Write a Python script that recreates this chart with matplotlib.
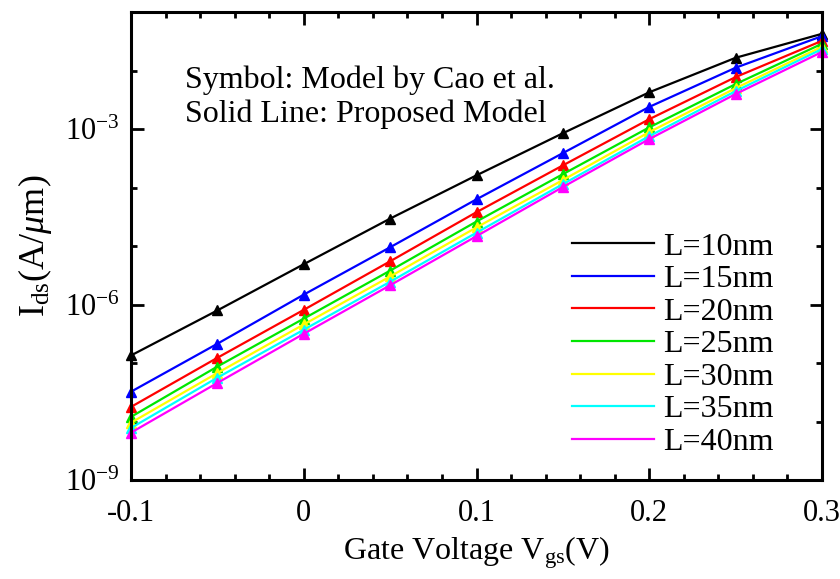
import numpy as np
import matplotlib
matplotlib.use("Agg")
import matplotlib.pyplot as plt
from matplotlib.ticker import FixedLocator, MultipleLocator, FuncFormatter, NullFormatter

plt.rcParams["font.family"] = ["Liberation Serif", "DejaVu Serif"]
plt.rcParams["mathtext.fontset"] = "custom"
plt.rcParams["mathtext.rm"] = "Liberation Serif"
plt.rcParams["mathtext.it"] = "Liberation Serif:italic"

vgs = [-0.1, -0.05, 0.0, 0.05, 0.1, 0.15, 0.2, 0.25, 0.3]
labels = ["L=10nm", "L=15nm", "L=20nm", "L=25nm", "L=30nm", "L=35nm", "L=40nm"]
colors = ["black", "#0000ff", "#ff0000", "#00e600", "#ffff00", "#00ffff", "#ff00ff"]

# log10(Ids), one row per channel length
log_ids = [
    [-6.87, -6.10, -5.31, -4.53, -3.79, -3.07, -2.37, -1.78, -1.37],
    [-7.49, -6.67, -5.83, -5.02, -4.20, -3.41, -2.62, -1.95, -1.41],
    [-7.75, -6.91, -6.09, -5.26, -4.42, -3.62, -2.83, -2.11, -1.49],
    [-7.92, -7.06, -6.24, -5.42, -4.58, -3.77, -2.97, -2.23, -1.54],
    [-8.02, -7.17, -6.34, -5.52, -4.68, -3.87, -3.05, -2.30, -1.59],
    [-8.11, -7.25, -6.43, -5.61, -4.77, -3.94, -3.12, -2.35, -1.63],
    [-8.19, -7.34, -6.50, -5.67, -4.83, -3.99, -3.17, -2.40, -1.68],
]

fig = plt.figure(figsize=(8.4, 5.79), dpi=100)
ax = fig.add_axes([0.156, 0.171, 0.8226, 0.808])

for lab, col, ly in zip(labels, colors, log_ids):
    ids = 10 ** np.array(ly)
    ax.plot(vgs, ids, color=col, lw=1.6, label=lab)
    ax.plot(vgs, ids, color=col, ls="none", marker="^", ms=7, clip_on=False)

ax.set_yscale("log")
ax.set_xlim(-0.1, 0.3)
ax.set_ylim(1e-9, 1e-1)

ax.xaxis.set_major_locator(MultipleLocator(0.1))
ax.xaxis.set_minor_locator(MultipleLocator(0.02))
ax.xaxis.set_major_formatter(FuncFormatter(lambda v, p: "0" if abs(v) < 1e-9 else f"{v:g}"))
ax.yaxis.set_major_locator(FixedLocator([1e-9, 1e-6, 1e-3]))
ax.yaxis.set_minor_locator(FixedLocator([10.0 ** k for k in range(-9, 0)]))
ax.yaxis.set_major_formatter(FuncFormatter(lambda v, p: r"$10^{%d}$" % round(np.log10(v))))
ax.yaxis.set_minor_formatter(NullFormatter())

ax.tick_params(which="both", direction="in", top=True, right=True, labelsize=22, width=2)
ax.tick_params(which="major", length=9)
ax.tick_params(axis="x", which="major", pad=14)
ax.tick_params(axis="y", which="major", pad=8)
ax.tick_params(which="minor", length=4)
for s in ax.spines.values():
    s.set_linewidth(2.2)

ax.set_xlabel(r"Gate Voltage $\mathrm{V_{gs}}$(V)", fontsize=23, labelpad=4)
ax.set_ylabel(r"$\mathrm{I_{ds}(A/}\mathit{\mu}\mathrm{m)}$", fontsize=26, labelpad=8)

ax.text(0.078, 0.885, "Symbol: Model by Cao et al.\nSolid Line: Proposed Model",
        transform=ax.transAxes, fontsize=23, va="top", linespacing=1.2)

ax.legend(loc="lower right", bbox_to_anchor=(0.972, -0.012), frameon=False, fontsize=23,
          handlelength=2.55, labelspacing=0.1, handletextpad=0.3)

fig.savefig("out.png", dpi=100)
